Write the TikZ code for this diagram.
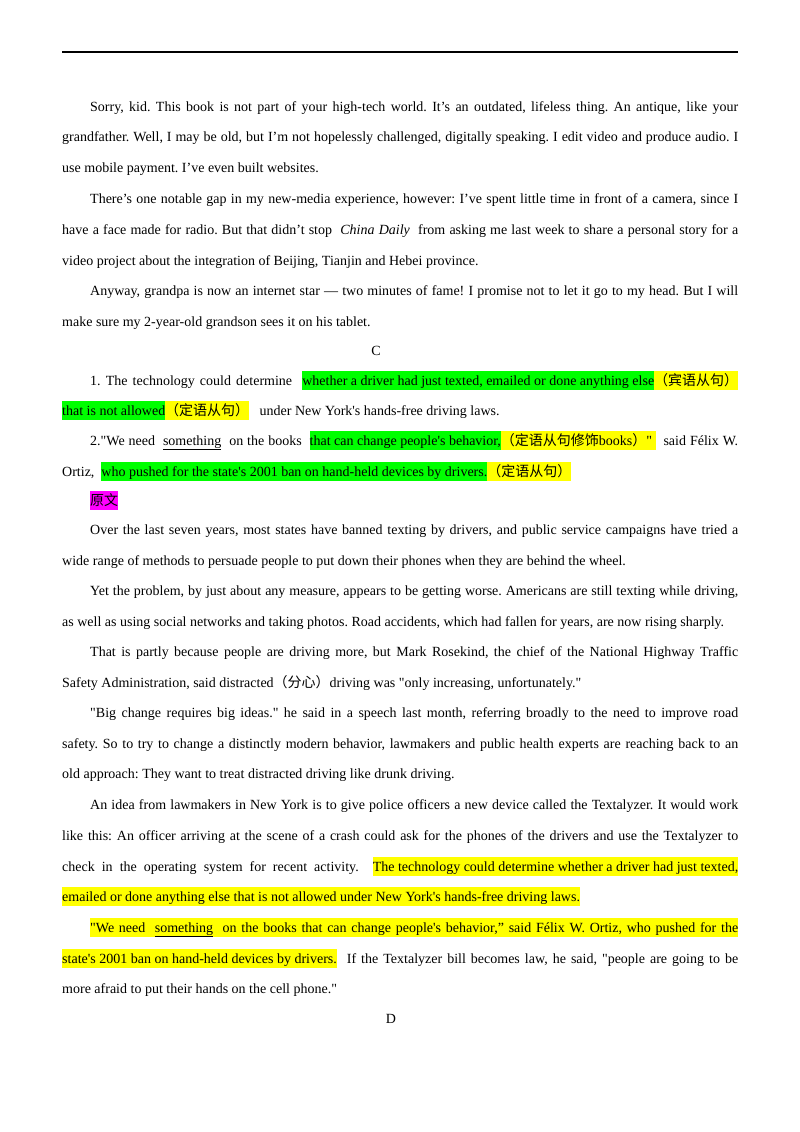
\documentclass[tikz,border=0pt]{standalone}
\usepackage{fontspec}
\setmainfont[Ligatures=TeXOff]{Liberation Serif}
\newfontfamily\cjk{Noto Sans CJK SC}
\definecolor{hlg}{RGB}{0,255,0}
\definecolor{hly}{RGB}{255,255,0}
\definecolor{hlm}{RGB}{255,0,255}
\newcommand{\hlbox}[2]{{\setlength\fboxsep{0pt}\colorbox{#1}{\rule[-4.5pt]{0pt}{18.5pt}#2}}}
\newcommand{\J}[1]{\makebox[676pt][s]{#1}}
\newcommand{\JI}[1]{\makebox[648pt][s]{#1}}
\tikzset{ln/.style={anchor=base west,inner sep=0pt,font=\fontsize{14}{16}\selectfont\frenchspacing}}
\begin{document}
\begin{tikzpicture}[x=1pt,y=-1pt]
\useasboundingbox[fill=white] (0,0) rectangle (800,1132);
\draw[line width=1.3pt] (62,52) -- (738,52);
\begin{scope}[yshift=-4pt]
\node[ln] (l1) at (90,107) {\JI{Sorry, kid. This book is not part of your high-tech world. It’s an outdated, lifeless thing. An antique, like your}};
\node[ln] (l2) at (62,137) {\J{grandfather. Well, I may be old, but I’m not hopelessly challenged, digitally speaking. I edit video and produce audio. I}};
\node[ln] (l3) at (62,168) {use mobile payment. I’ve even built websites.};
\node[ln] (l4) at (90,199) {\JI{There’s one notable gap in my new-media experience, however: I’ve spent little time in front of a camera, since I}};
\node[ln] (l5) at (62,230) {\J{have a face made for radio. But that didn’t stop \ \textit{China Daily} \ from asking me last week to share a personal story for a}};
\node[ln] (l6) at (62,261) {video project about the integration of Beijing, Tianjin and Hebei province.};
\node[ln] (l7) at (90,291) {\JI{Anyway, grandpa is now an internet star — two minutes of fame! I promise not to let it go to my head. But I will}};
\node[ln] (l8) at (62,322) {make sure my 2-year-old grandson sees it on his tablet.};
\node[ln,anchor=base] (c) at (376,351) {C};
\node[ln] (l9) at (90,381) {\JI{1. The technology could determine \ \hlbox{hlg}{whether a driver had just texted, emailed or done anything else}\hlbox{hly}{\cjk （宾语从句）}}};
\node[ln] (l10) at (62,411) {\hlbox{hlg}{that is not allowed}\hlbox{hly}{\cjk （定语从句）} \ \ under New York's hands-free driving laws.};
\node[ln] (l11) at (90,441) {\JI{2."We need \ \underline{something} \ on the books \ \hlbox{hlg}{that can change people's behavior,}\hlbox{hly}{{\cjk （定语从句修饰}books{\cjk ）}" } \ said Félix W.}};
\node[ln] (l12) at (62,472) {Ortiz, \ \hlbox{hlg}{who pushed for the state's 2001 ban on hand-held devices by drivers.}\hlbox{hly}{\cjk （定语从句）}};
\node[ln] (l13) at (90,501) {\hlbox{hlm}{\cjk 原文}};
\node[ln] (l14) at (90,530) {\JI{Over the last seven years, most states have banned texting by drivers, and public service campaigns have tried a}};
\node[ln] (l15) at (62,561) {wide range of methods to persuade people to put down their phones when they are behind the wheel.};
\node[ln] (l16) at (90,591) {\JI{Yet the problem, by just about any measure, appears to be getting worse. Americans are still texting while driving,}};
\node[ln] (l17) at (62,622) {as well as using social networks and taking photos. Road accidents, which had fallen for years, are now rising sharply.};
\node[ln] (l18) at (90,652) {\JI{That is partly because people are driving more, but Mark Rosekind, the chief of the National Highway Traffic}};
\node[ln] (l19) at (62,683) {Safety Administration, said distracted{\cjk （分心）}driving was "only increasing, unfortunately."};
\node[ln] (l20) at (90,713) {\JI{"Big change requires big ideas." he said in a speech last month, referring broadly to the need to improve road}};
\node[ln] (l21) at (62,744) {\J{safety. So to try to change a distinctly modern behavior, lawmakers and public health experts are reaching back to an}};
\node[ln] (l22) at (62,774) {old approach: They want to treat distracted driving like drunk driving.};
\node[ln] (l23) at (90,805) {\JI{An idea from lawmakers in New York is to give police officers a new device called the Textalyzer. It would work}};
\node[ln] (l24) at (62,836) {\J{like this: An officer arriving at the scene of a crash could ask for the phones of the drivers and use the Textalyzer to}};
\node[ln] (l25) at (62,867) {\J{check in the operating system for recent activity. \ \hlbox{hly}{The technology could determine whether a driver had just texted,}}};
\node[ln] (l26) at (62,897) {\hlbox{hly}{emailed or done anything else that is not allowed under New York's hands-free driving laws.}};
\node[ln] (l27) at (90,928) {\hlbox{hly}{\JI{"We need \ \underline{something} \ on the books that can change people's behavior,” said Félix W. Ortiz, who pushed for the}}};
\node[ln] (l28) at (62,959) {\J{\hlbox{hly}{state's 2001 ban on hand-held devices by drivers.} \ If the Textalyzer bill becomes law, he said, "people are going to be}};
\node[ln] (l29) at (62,989) {more afraid to put their hands on the cell phone."};
\node[ln,anchor=base] (d) at (391,1019) {D};
\end{scope}
\end{tikzpicture}
\end{document}
